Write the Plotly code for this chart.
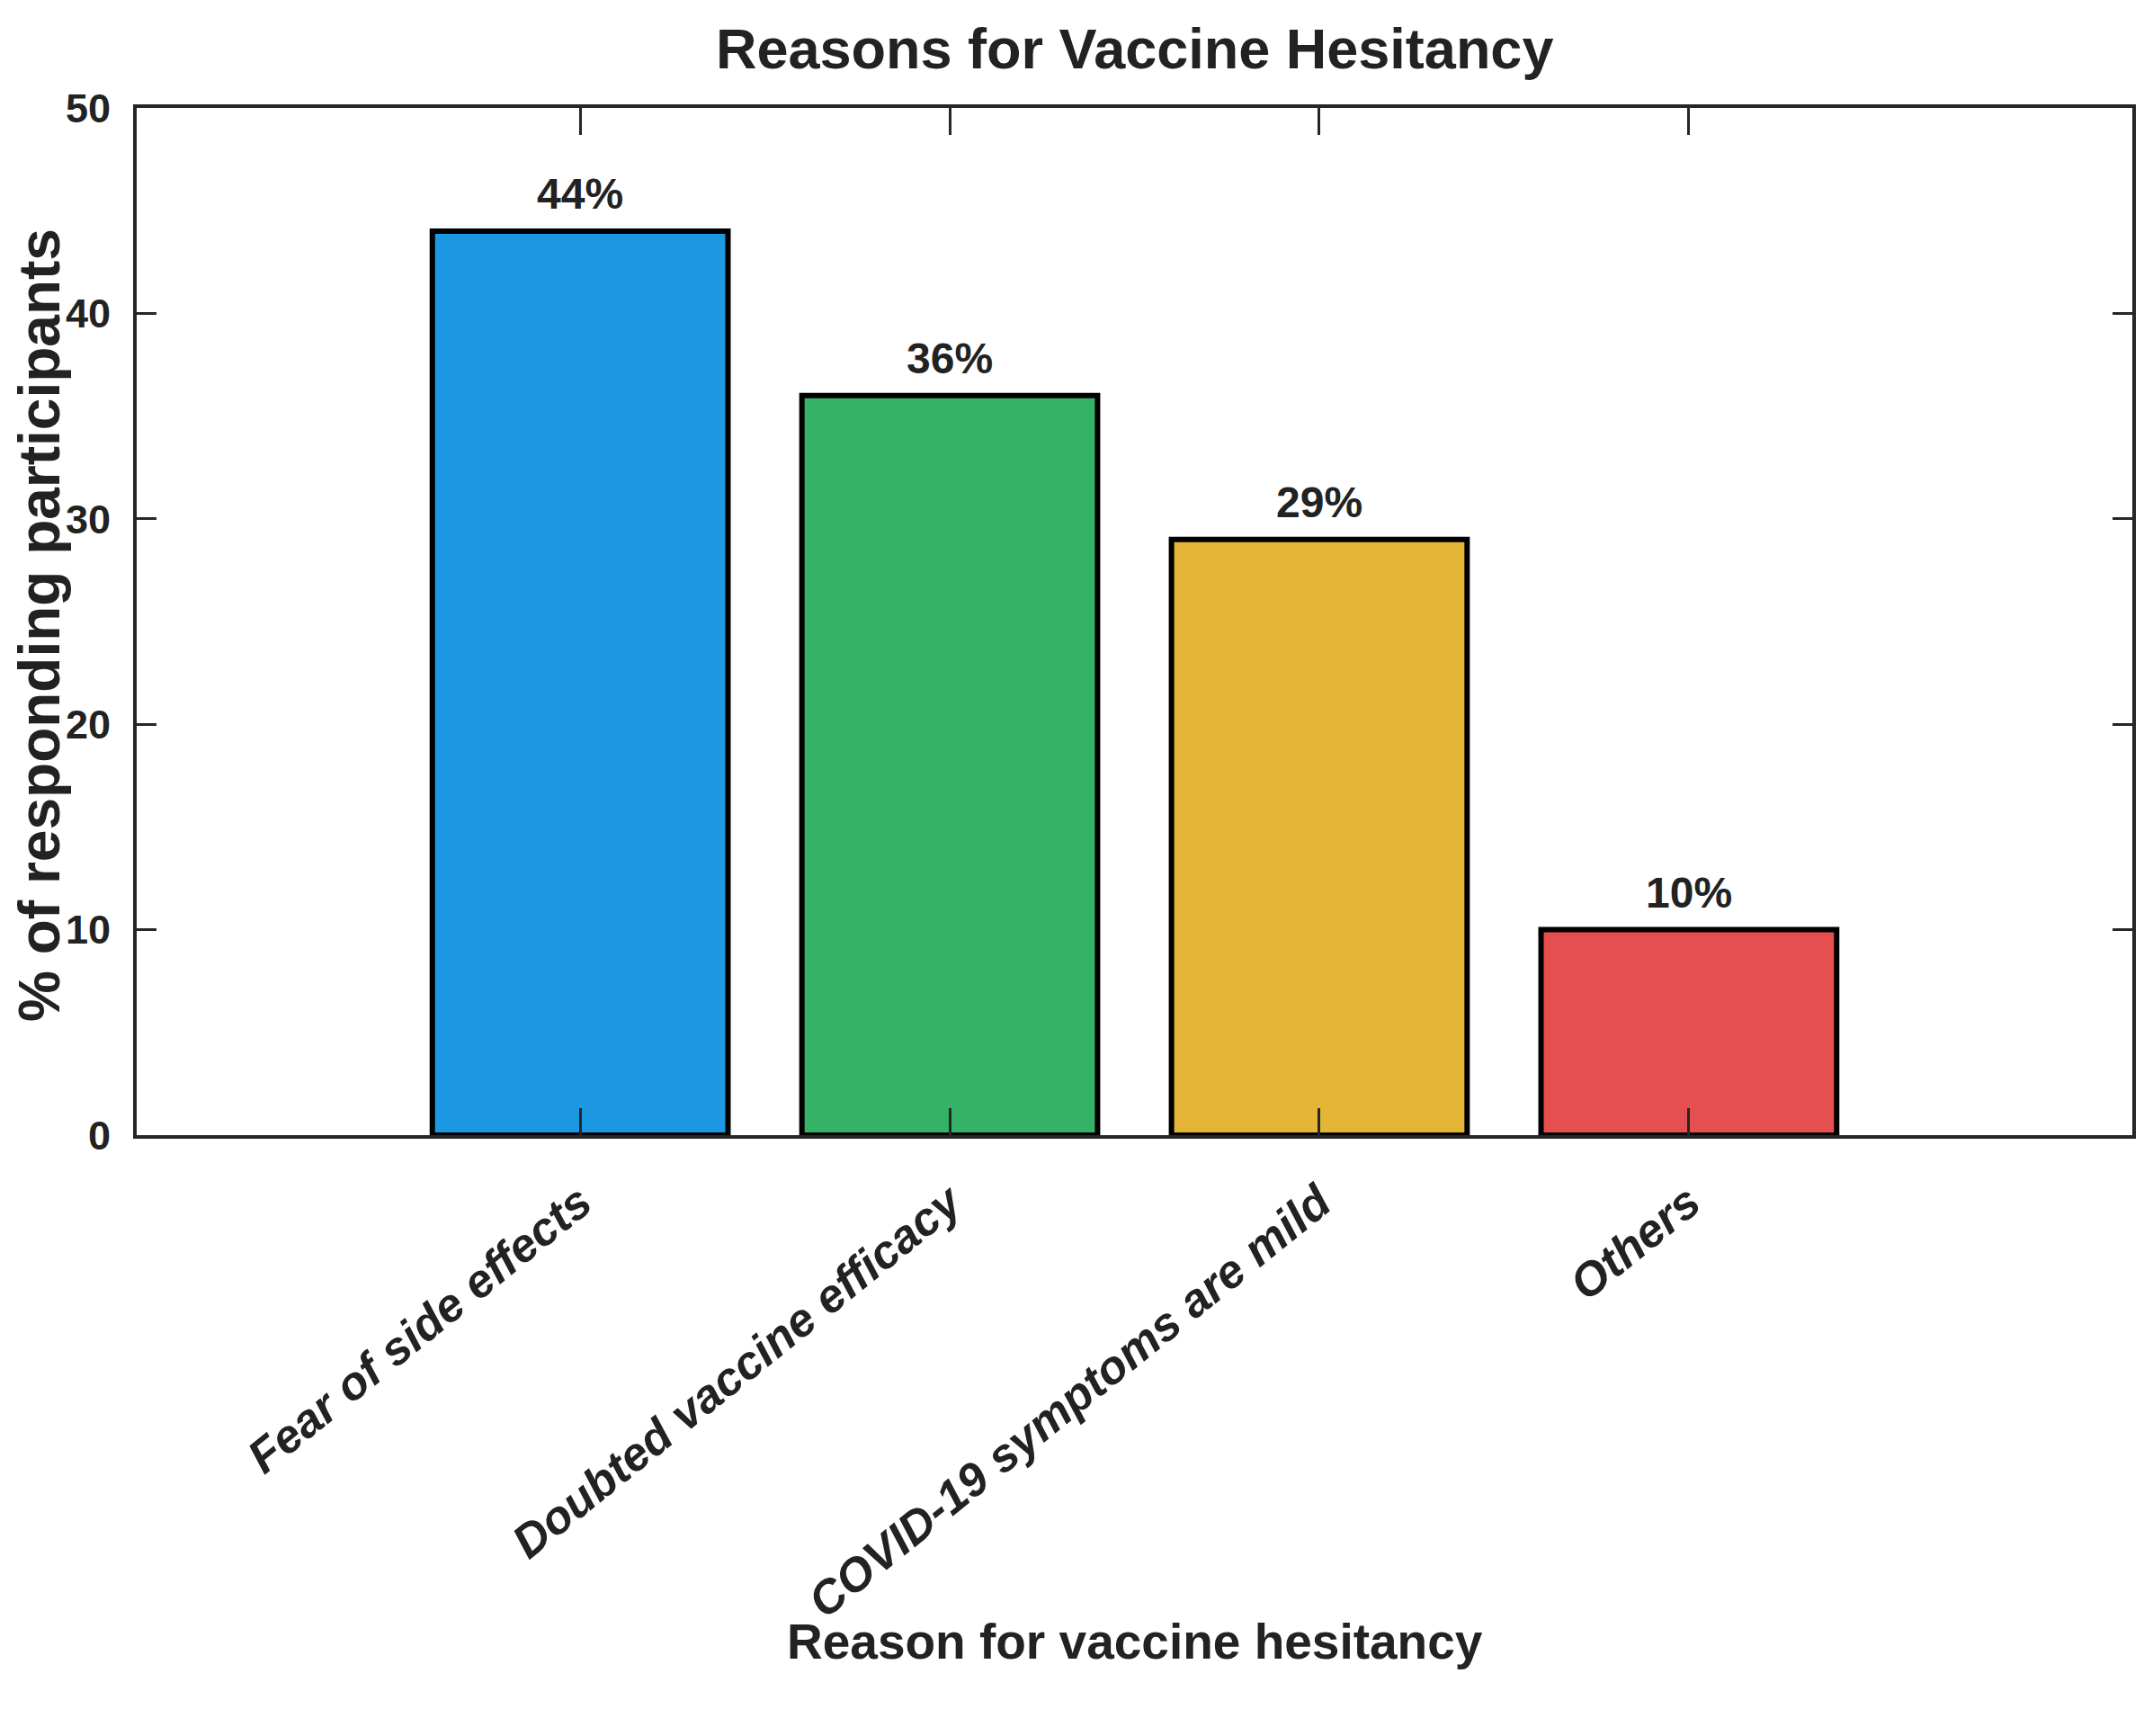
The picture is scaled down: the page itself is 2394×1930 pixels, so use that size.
import plotly.graph_objects as go

categories = ["Fear of side effects", "Doubted vaccine efficacy",
              "COVID-19 symptoms are mild", "Others"]
values = [44, 36, 29, 10]
bar_labels = ["44%", "36%", "29%", "10%"]
y_ticks = [0, 10, 20, 30, 40, 50]

colors = ["#1C98E3", "#34B266", "#E4B434", "#E64F4F"]
AX = "#262626"
TXT = "#222222"
SANS = "Liberation Sans, Arial, sans-serif"

# page body has an 8px default margin; compensate so the plot area lands
# where it is in the reference
W, H = 2386, 1922
L, R, T, B = 144, 23, 112, 668

fig = go.Figure()
fig.add_trace(go.Bar(
    x=categories, y=values, width=0.8,
    marker=dict(color=colors, line=dict(color="#000000", width=6)),
    showlegend=False, hoverinfo="skip",
))

for c, v, t in zip(categories, values, bar_labels):
    fig.add_annotation(x=c, y=v, xref="x", yref="y", text=t, showarrow=False,
                       xanchor="center", yanchor="bottom", yshift=13,
                       font=dict(family=SANS, size=48, color=TXT, weight="bold"))

fig.add_annotation(x=0.5, y=1.058, xref="paper", yref="paper",
                   text="Reasons for Vaccine Hesitancy", showarrow=False,
                   xanchor="center", yanchor="middle",
                   font=dict(family=SANS, size=63, color=TXT, weight="bold"))
fig.add_annotation(x=0.5, y=-0.493, xref="paper", yref="paper",
                   text="Reason for vaccine hesitancy", showarrow=False,
                   xanchor="center", yanchor="middle",
                   font=dict(family=SANS, size=55, color=TXT, weight="bold"))
fig.add_annotation(x=-0.0487, y=0.4965, xref="paper", yref="paper",
                   text="% of responding participants", showarrow=False,
                   textangle=-90, xanchor="center", yanchor="middle", borderpad=0,
                   font=dict(family=SANS, size=64, color=TXT, weight="bold"))

fig.update_xaxes(
    range=[-1.2, 4.2], showline=True, linewidth=4, linecolor=AX, mirror="allticks",
    ticks="inside", ticklen=30, tickwidth=3, tickcolor=AX,
    tickangle=-39, ticklabelstandoff=20,
    tickfont=dict(family=SANS, size=52, color=TXT, weight="bold", style="italic"),
    showgrid=False, zeroline=False,
)
fig.update_yaxes(
    range=[0, 50], tickvals=y_ticks, showline=True, linewidth=4, linecolor=AX,
    mirror="allticks", ticks="inside", ticklen=22, tickwidth=3, tickcolor=AX,
    ticklabelstandoff=16,
    tickfont=dict(family=SANS, size=45, color=TXT, weight="bold"),
    showgrid=False, zeroline=False,
)

fig.update_layout(
    width=W, height=H, margin=dict(l=L, r=R, t=T, b=B, autoexpand=False),
    paper_bgcolor="white", plot_bgcolor="white", bargap=0.2,
)

fig.write_html("out.html")
